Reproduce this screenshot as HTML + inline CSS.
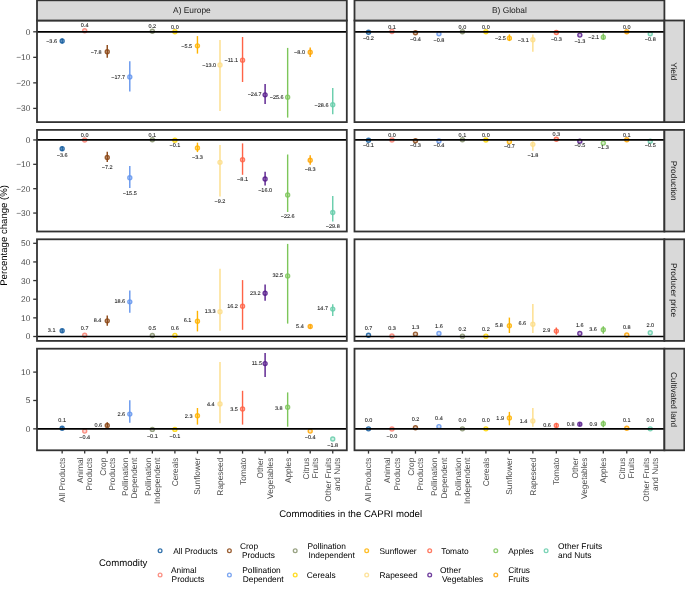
<!DOCTYPE html>
<html><head><meta charset="utf-8"><style>
html,body{margin:0;padding:0;background:#fff;overflow:hidden;}
svg{display:block;will-change:transform;}
text{text-rendering:geometricPrecision;}
text{font-family:"Liberation Sans", sans-serif;}
.lb{font-size:5.5px;fill:#1a1a1a;stroke:#1a1a1a;stroke-width:0.08px;}
.ax{font-size:8.35px;fill:#4d4d4d;}
.st{font-size:8.35px;fill:#1a1a1a;}
.ti{font-size:9.6px;fill:#000;}
.lg{font-size:8.35px;fill:#000;}
</style></head><body>
<svg width="685" height="591" viewBox="0 0 685 591">
<rect width="685" height="591" fill="#fff"/>
<rect x="37" y="20.5" width="309.8" height="101.6" fill="#fff"/>
<rect x="354.5" y="20.5" width="309.9" height="101.6" fill="#fff"/>
<rect x="37" y="129.9" width="309.8" height="101.6" fill="#fff"/>
<rect x="354.5" y="129.9" width="309.9" height="101.6" fill="#fff"/>
<rect x="37" y="239.3" width="309.8" height="101.6" fill="#fff"/>
<rect x="354.5" y="239.3" width="309.9" height="101.6" fill="#fff"/>
<rect x="37" y="348.7" width="309.8" height="101.6" fill="#fff"/>
<rect x="354.5" y="348.7" width="309.9" height="101.6" fill="#fff"/>
<line x1="62.15" y1="38.59" x2="62.15" y2="43.39" stroke="#135c9f" stroke-width="1.4"/>
<circle cx="62.15" cy="40.99" r="2.0" fill="#135c9f" fill-opacity="0.3" stroke="#135c9f" stroke-opacity="0.85" stroke-width="1.4"/>
<circle cx="84.7" cy="30.78" r="2.0" fill="#fa8072" fill-opacity="0.3" stroke="#fa8072" stroke-opacity="0.85" stroke-width="1.4"/>
<line x1="107.25" y1="45.1" x2="107.25" y2="57.7" stroke="#8b4513" stroke-width="1.4"/>
<circle cx="107.25" cy="51.71" r="2.0" fill="#8b4513" fill-opacity="0.3" stroke="#8b4513" stroke-opacity="0.85" stroke-width="1.4"/>
<line x1="129.8" y1="61.2" x2="129.8" y2="91.6" stroke="#6495ed" stroke-width="1.4"/>
<circle cx="129.8" cy="76.99" r="2.0" fill="#6495ed" fill-opacity="0.3" stroke="#6495ed" stroke-opacity="0.85" stroke-width="1.4"/>
<circle cx="152.35" cy="31.29" r="2.0" fill="#87936f" fill-opacity="0.3" stroke="#87936f" stroke-opacity="0.85" stroke-width="1.4"/>
<circle cx="174.9" cy="31.8" r="2.0" fill="#ffd700" fill-opacity="0.3" stroke="#ffd700" stroke-opacity="0.85" stroke-width="1.4"/>
<line x1="197.45" y1="36.1" x2="197.45" y2="53.6" stroke="#ffb300" stroke-width="1.4"/>
<circle cx="197.45" cy="45.84" r="2.0" fill="#ffb300" fill-opacity="0.3" stroke="#ffb300" stroke-opacity="0.85" stroke-width="1.4"/>
<line x1="220" y1="40.1" x2="220" y2="111.1" stroke="#fddd88" stroke-width="1.4"/>
<circle cx="220" cy="64.99" r="2.0" fill="#fddd88" fill-opacity="0.3" stroke="#fddd88" stroke-opacity="0.85" stroke-width="1.4"/>
<line x1="242.55" y1="37" x2="242.55" y2="82" stroke="#ff6347" stroke-width="1.4"/>
<circle cx="242.55" cy="60.14" r="2.0" fill="#ff6347" fill-opacity="0.3" stroke="#ff6347" stroke-opacity="0.85" stroke-width="1.4"/>
<line x1="265.1" y1="83.9" x2="265.1" y2="104" stroke="#551a8b" stroke-width="1.4"/>
<circle cx="265.1" cy="94.86" r="2.0" fill="#551a8b" fill-opacity="0.3" stroke="#551a8b" stroke-opacity="0.85" stroke-width="1.4"/>
<line x1="287.65" y1="47.9" x2="287.65" y2="117.6" stroke="#7dc65a" stroke-width="1.4"/>
<circle cx="287.65" cy="97.16" r="2.0" fill="#7dc65a" fill-opacity="0.3" stroke="#7dc65a" stroke-opacity="0.85" stroke-width="1.4"/>
<line x1="310.2" y1="47.5" x2="310.2" y2="56.9" stroke="#ffa500" stroke-width="1.4"/>
<circle cx="310.2" cy="52.22" r="2.0" fill="#ffa500" fill-opacity="0.3" stroke="#ffa500" stroke-opacity="0.85" stroke-width="1.4"/>
<line x1="332.75" y1="88.1" x2="332.75" y2="114.3" stroke="#66cdaa" stroke-width="1.4"/>
<circle cx="332.75" cy="104.82" r="2.0" fill="#66cdaa" fill-opacity="0.3" stroke="#66cdaa" stroke-opacity="0.85" stroke-width="1.4"/>
<circle cx="368.5" cy="32.31" r="2.0" fill="#135c9f" fill-opacity="0.3" stroke="#135c9f" stroke-opacity="0.85" stroke-width="1.4"/>
<circle cx="391.98" cy="31.54" r="2.0" fill="#fa8072" fill-opacity="0.3" stroke="#fa8072" stroke-opacity="0.85" stroke-width="1.4"/>
<circle cx="415.46" cy="32.82" r="2.0" fill="#8b4513" fill-opacity="0.3" stroke="#8b4513" stroke-opacity="0.85" stroke-width="1.4"/>
<circle cx="438.94" cy="33.84" r="2.0" fill="#6495ed" fill-opacity="0.3" stroke="#6495ed" stroke-opacity="0.85" stroke-width="1.4"/>
<circle cx="462.42" cy="31.8" r="2.0" fill="#87936f" fill-opacity="0.3" stroke="#87936f" stroke-opacity="0.85" stroke-width="1.4"/>
<circle cx="485.9" cy="31.8" r="2.0" fill="#ffd700" fill-opacity="0.3" stroke="#ffd700" stroke-opacity="0.85" stroke-width="1.4"/>
<line x1="509.38" y1="34.4" x2="509.38" y2="41.1" stroke="#ffb300" stroke-width="1.4"/>
<circle cx="509.38" cy="38.18" r="2.0" fill="#ffb300" fill-opacity="0.3" stroke="#ffb300" stroke-opacity="0.85" stroke-width="1.4"/>
<line x1="532.86" y1="34.4" x2="532.86" y2="51.8" stroke="#fddd88" stroke-width="1.4"/>
<circle cx="532.86" cy="39.71" r="2.0" fill="#fddd88" fill-opacity="0.3" stroke="#fddd88" stroke-opacity="0.85" stroke-width="1.4"/>
<circle cx="556.34" cy="32.57" r="2.0" fill="#ff6347" fill-opacity="0.3" stroke="#ff6347" stroke-opacity="0.85" stroke-width="1.4"/>
<circle cx="579.82" cy="35.12" r="2.0" fill="#551a8b" fill-opacity="0.3" stroke="#551a8b" stroke-opacity="0.85" stroke-width="1.4"/>
<line x1="603.3" y1="33.6" x2="603.3" y2="39.9" stroke="#7dc65a" stroke-width="1.4"/>
<circle cx="603.3" cy="37.16" r="2.0" fill="#7dc65a" fill-opacity="0.3" stroke="#7dc65a" stroke-opacity="0.85" stroke-width="1.4"/>
<circle cx="626.78" cy="31.8" r="2.0" fill="#ffa500" fill-opacity="0.3" stroke="#ffa500" stroke-opacity="0.85" stroke-width="1.4"/>
<circle cx="650.26" cy="33.84" r="2.0" fill="#66cdaa" fill-opacity="0.3" stroke="#66cdaa" stroke-opacity="0.85" stroke-width="1.4"/>
<line x1="62.15" y1="146.42" x2="62.15" y2="151.02" stroke="#135c9f" stroke-width="1.4"/>
<circle cx="62.15" cy="148.72" r="2.0" fill="#135c9f" fill-opacity="0.3" stroke="#135c9f" stroke-opacity="0.85" stroke-width="1.4"/>
<circle cx="84.7" cy="139.95" r="2.0" fill="#fa8072" fill-opacity="0.3" stroke="#fa8072" stroke-opacity="0.85" stroke-width="1.4"/>
<line x1="107.25" y1="151.8" x2="107.25" y2="161.9" stroke="#8b4513" stroke-width="1.4"/>
<circle cx="107.25" cy="157.5" r="2.0" fill="#8b4513" fill-opacity="0.3" stroke="#8b4513" stroke-opacity="0.85" stroke-width="1.4"/>
<line x1="129.8" y1="166" x2="129.8" y2="188" stroke="#6495ed" stroke-width="1.4"/>
<circle cx="129.8" cy="177.72" r="2.0" fill="#6495ed" fill-opacity="0.3" stroke="#6495ed" stroke-opacity="0.85" stroke-width="1.4"/>
<circle cx="152.35" cy="139.71" r="2.0" fill="#87936f" fill-opacity="0.3" stroke="#87936f" stroke-opacity="0.85" stroke-width="1.4"/>
<circle cx="174.9" cy="140.19" r="2.0" fill="#ffd700" fill-opacity="0.3" stroke="#ffd700" stroke-opacity="0.85" stroke-width="1.4"/>
<line x1="197.45" y1="142.7" x2="197.45" y2="152.1" stroke="#ffb300" stroke-width="1.4"/>
<circle cx="197.45" cy="147.99" r="2.0" fill="#ffb300" fill-opacity="0.3" stroke="#ffb300" stroke-opacity="0.85" stroke-width="1.4"/>
<line x1="220" y1="145" x2="220" y2="196.6" stroke="#fddd88" stroke-width="1.4"/>
<circle cx="220" cy="162.37" r="2.0" fill="#fddd88" fill-opacity="0.3" stroke="#fddd88" stroke-opacity="0.85" stroke-width="1.4"/>
<line x1="242.55" y1="143.4" x2="242.55" y2="174.8" stroke="#ff6347" stroke-width="1.4"/>
<circle cx="242.55" cy="159.69" r="2.0" fill="#ff6347" fill-opacity="0.3" stroke="#ff6347" stroke-opacity="0.85" stroke-width="1.4"/>
<line x1="265.1" y1="171.8" x2="265.1" y2="185.5" stroke="#551a8b" stroke-width="1.4"/>
<circle cx="265.1" cy="178.94" r="2.0" fill="#551a8b" fill-opacity="0.3" stroke="#551a8b" stroke-opacity="0.85" stroke-width="1.4"/>
<line x1="287.65" y1="154.5" x2="287.65" y2="212" stroke="#7dc65a" stroke-width="1.4"/>
<circle cx="287.65" cy="195.03" r="2.0" fill="#7dc65a" fill-opacity="0.3" stroke="#7dc65a" stroke-opacity="0.85" stroke-width="1.4"/>
<line x1="310.2" y1="155.2" x2="310.2" y2="164.7" stroke="#ffa500" stroke-width="1.4"/>
<circle cx="310.2" cy="160.18" r="2.0" fill="#ffa500" fill-opacity="0.3" stroke="#ffa500" stroke-opacity="0.85" stroke-width="1.4"/>
<line x1="332.75" y1="196.1" x2="332.75" y2="221.4" stroke="#66cdaa" stroke-width="1.4"/>
<circle cx="332.75" cy="212.57" r="2.0" fill="#66cdaa" fill-opacity="0.3" stroke="#66cdaa" stroke-opacity="0.85" stroke-width="1.4"/>
<circle cx="368.5" cy="140.19" r="2.0" fill="#135c9f" fill-opacity="0.3" stroke="#135c9f" stroke-opacity="0.85" stroke-width="1.4"/>
<circle cx="391.98" cy="139.95" r="2.0" fill="#fa8072" fill-opacity="0.3" stroke="#fa8072" stroke-opacity="0.85" stroke-width="1.4"/>
<circle cx="415.46" cy="140.68" r="2.0" fill="#8b4513" fill-opacity="0.3" stroke="#8b4513" stroke-opacity="0.85" stroke-width="1.4"/>
<circle cx="438.94" cy="140.92" r="2.0" fill="#6495ed" fill-opacity="0.3" stroke="#6495ed" stroke-opacity="0.85" stroke-width="1.4"/>
<circle cx="462.42" cy="139.71" r="2.0" fill="#87936f" fill-opacity="0.3" stroke="#87936f" stroke-opacity="0.85" stroke-width="1.4"/>
<circle cx="485.9" cy="139.95" r="2.0" fill="#ffd700" fill-opacity="0.3" stroke="#ffd700" stroke-opacity="0.85" stroke-width="1.4"/>
<circle cx="509.38" cy="141.66" r="2.0" fill="#ffb300" fill-opacity="0.3" stroke="#ffb300" stroke-opacity="0.85" stroke-width="1.4"/>
<line x1="532.86" y1="141.6" x2="532.86" y2="150.8" stroke="#fddd88" stroke-width="1.4"/>
<circle cx="532.86" cy="144.34" r="2.0" fill="#fddd88" fill-opacity="0.3" stroke="#fddd88" stroke-opacity="0.85" stroke-width="1.4"/>
<circle cx="556.34" cy="139.22" r="2.0" fill="#ff6347" fill-opacity="0.3" stroke="#ff6347" stroke-opacity="0.85" stroke-width="1.4"/>
<circle cx="579.82" cy="141.17" r="2.0" fill="#551a8b" fill-opacity="0.3" stroke="#551a8b" stroke-opacity="0.85" stroke-width="1.4"/>
<circle cx="603.3" cy="143.12" r="2.0" fill="#7dc65a" fill-opacity="0.3" stroke="#7dc65a" stroke-opacity="0.85" stroke-width="1.4"/>
<circle cx="626.78" cy="139.71" r="2.0" fill="#ffa500" fill-opacity="0.3" stroke="#ffa500" stroke-opacity="0.85" stroke-width="1.4"/>
<circle cx="650.26" cy="141.17" r="2.0" fill="#66cdaa" fill-opacity="0.3" stroke="#66cdaa" stroke-opacity="0.85" stroke-width="1.4"/>
<line x1="62.15" y1="328.72" x2="62.15" y2="332.72" stroke="#135c9f" stroke-width="1.4"/>
<circle cx="62.15" cy="330.72" r="2.0" fill="#135c9f" fill-opacity="0.3" stroke="#135c9f" stroke-opacity="0.85" stroke-width="1.4"/>
<circle cx="84.7" cy="335.2" r="2.0" fill="#fa8072" fill-opacity="0.3" stroke="#fa8072" stroke-opacity="0.85" stroke-width="1.4"/>
<line x1="107.25" y1="315.6" x2="107.25" y2="325.8" stroke="#8b4513" stroke-width="1.4"/>
<circle cx="107.25" cy="320.84" r="2.0" fill="#8b4513" fill-opacity="0.3" stroke="#8b4513" stroke-opacity="0.85" stroke-width="1.4"/>
<line x1="129.8" y1="290.5" x2="129.8" y2="312.7" stroke="#6495ed" stroke-width="1.4"/>
<circle cx="129.8" cy="301.83" r="2.0" fill="#6495ed" fill-opacity="0.3" stroke="#6495ed" stroke-opacity="0.85" stroke-width="1.4"/>
<circle cx="152.35" cy="335.57" r="2.0" fill="#87936f" fill-opacity="0.3" stroke="#87936f" stroke-opacity="0.85" stroke-width="1.4"/>
<circle cx="174.9" cy="335.38" r="2.0" fill="#ffd700" fill-opacity="0.3" stroke="#ffd700" stroke-opacity="0.85" stroke-width="1.4"/>
<line x1="197.45" y1="310.8" x2="197.45" y2="331.4" stroke="#ffb300" stroke-width="1.4"/>
<circle cx="197.45" cy="321.2" r="2.0" fill="#ffb300" fill-opacity="0.3" stroke="#ffb300" stroke-opacity="0.85" stroke-width="1.4"/>
<line x1="220" y1="268.7" x2="220" y2="330.7" stroke="#fddd88" stroke-width="1.4"/>
<circle cx="220" cy="311.71" r="2.0" fill="#fddd88" fill-opacity="0.3" stroke="#fddd88" stroke-opacity="0.85" stroke-width="1.4"/>
<line x1="242.55" y1="280.1" x2="242.55" y2="329.8" stroke="#ff6347" stroke-width="1.4"/>
<circle cx="242.55" cy="306.3" r="2.0" fill="#ff6347" fill-opacity="0.3" stroke="#ff6347" stroke-opacity="0.85" stroke-width="1.4"/>
<line x1="265.1" y1="284.6" x2="265.1" y2="300.7" stroke="#551a8b" stroke-width="1.4"/>
<circle cx="265.1" cy="293.26" r="2.0" fill="#551a8b" fill-opacity="0.3" stroke="#551a8b" stroke-opacity="0.85" stroke-width="1.4"/>
<line x1="287.65" y1="243.9" x2="287.65" y2="323.6" stroke="#7dc65a" stroke-width="1.4"/>
<circle cx="287.65" cy="275.92" r="2.0" fill="#7dc65a" fill-opacity="0.3" stroke="#7dc65a" stroke-opacity="0.85" stroke-width="1.4"/>
<line x1="310.2" y1="324.43" x2="310.2" y2="328.43" stroke="#ffa500" stroke-width="1.4"/>
<circle cx="310.2" cy="326.43" r="2.0" fill="#ffa500" fill-opacity="0.3" stroke="#ffa500" stroke-opacity="0.85" stroke-width="1.4"/>
<line x1="332.75" y1="304.2" x2="332.75" y2="316" stroke="#66cdaa" stroke-width="1.4"/>
<circle cx="332.75" cy="309.1" r="2.0" fill="#66cdaa" fill-opacity="0.3" stroke="#66cdaa" stroke-opacity="0.85" stroke-width="1.4"/>
<circle cx="368.5" cy="335.2" r="2.0" fill="#135c9f" fill-opacity="0.3" stroke="#135c9f" stroke-opacity="0.85" stroke-width="1.4"/>
<circle cx="391.98" cy="335.94" r="2.0" fill="#fa8072" fill-opacity="0.3" stroke="#fa8072" stroke-opacity="0.85" stroke-width="1.4"/>
<circle cx="415.46" cy="334.08" r="2.0" fill="#8b4513" fill-opacity="0.3" stroke="#8b4513" stroke-opacity="0.85" stroke-width="1.4"/>
<circle cx="438.94" cy="333.52" r="2.0" fill="#6495ed" fill-opacity="0.3" stroke="#6495ed" stroke-opacity="0.85" stroke-width="1.4"/>
<circle cx="462.42" cy="336.13" r="2.0" fill="#87936f" fill-opacity="0.3" stroke="#87936f" stroke-opacity="0.85" stroke-width="1.4"/>
<circle cx="485.9" cy="336.13" r="2.0" fill="#ffd700" fill-opacity="0.3" stroke="#ffd700" stroke-opacity="0.85" stroke-width="1.4"/>
<line x1="509.38" y1="317.6" x2="509.38" y2="333" stroke="#ffb300" stroke-width="1.4"/>
<circle cx="509.38" cy="325.69" r="2.0" fill="#ffb300" fill-opacity="0.3" stroke="#ffb300" stroke-opacity="0.85" stroke-width="1.4"/>
<line x1="532.86" y1="303.9" x2="532.86" y2="333" stroke="#fddd88" stroke-width="1.4"/>
<circle cx="532.86" cy="324.2" r="2.0" fill="#fddd88" fill-opacity="0.3" stroke="#fddd88" stroke-opacity="0.85" stroke-width="1.4"/>
<line x1="556.34" y1="327.5" x2="556.34" y2="334.7" stroke="#ff6347" stroke-width="1.4"/>
<circle cx="556.34" cy="331.09" r="2.0" fill="#ff6347" fill-opacity="0.3" stroke="#ff6347" stroke-opacity="0.85" stroke-width="1.4"/>
<circle cx="579.82" cy="333.52" r="2.0" fill="#551a8b" fill-opacity="0.3" stroke="#551a8b" stroke-opacity="0.85" stroke-width="1.4"/>
<line x1="603.3" y1="326.2" x2="603.3" y2="333.7" stroke="#7dc65a" stroke-width="1.4"/>
<circle cx="603.3" cy="329.79" r="2.0" fill="#7dc65a" fill-opacity="0.3" stroke="#7dc65a" stroke-opacity="0.85" stroke-width="1.4"/>
<circle cx="626.78" cy="335.01" r="2.0" fill="#ffa500" fill-opacity="0.3" stroke="#ffa500" stroke-opacity="0.85" stroke-width="1.4"/>
<circle cx="650.26" cy="332.77" r="2.0" fill="#66cdaa" fill-opacity="0.3" stroke="#66cdaa" stroke-opacity="0.85" stroke-width="1.4"/>
<line x1="62.15" y1="426.78" x2="62.15" y2="429.78" stroke="#135c9f" stroke-width="1.4"/>
<circle cx="62.15" cy="428.28" r="2.0" fill="#135c9f" fill-opacity="0.3" stroke="#135c9f" stroke-opacity="0.85" stroke-width="1.4"/>
<circle cx="84.7" cy="431.12" r="2.0" fill="#fa8072" fill-opacity="0.3" stroke="#fa8072" stroke-opacity="0.85" stroke-width="1.4"/>
<line x1="107.25" y1="422.3" x2="107.25" y2="427.3" stroke="#8b4513" stroke-width="1.4"/>
<circle cx="107.25" cy="425.45" r="2.0" fill="#8b4513" fill-opacity="0.3" stroke="#8b4513" stroke-opacity="0.85" stroke-width="1.4"/>
<line x1="129.8" y1="400.2" x2="129.8" y2="422.8" stroke="#6495ed" stroke-width="1.4"/>
<circle cx="129.8" cy="414.1" r="2.0" fill="#6495ed" fill-opacity="0.3" stroke="#6495ed" stroke-opacity="0.85" stroke-width="1.4"/>
<circle cx="152.35" cy="429.42" r="2.0" fill="#87936f" fill-opacity="0.3" stroke="#87936f" stroke-opacity="0.85" stroke-width="1.4"/>
<circle cx="174.9" cy="429.42" r="2.0" fill="#ffd700" fill-opacity="0.3" stroke="#ffd700" stroke-opacity="0.85" stroke-width="1.4"/>
<line x1="197.45" y1="408" x2="197.45" y2="424.6" stroke="#ffb300" stroke-width="1.4"/>
<circle cx="197.45" cy="415.8" r="2.0" fill="#ffb300" fill-opacity="0.3" stroke="#ffb300" stroke-opacity="0.85" stroke-width="1.4"/>
<line x1="220" y1="361.9" x2="220" y2="423.2" stroke="#fddd88" stroke-width="1.4"/>
<circle cx="220" cy="403.88" r="2.0" fill="#fddd88" fill-opacity="0.3" stroke="#fddd88" stroke-opacity="0.85" stroke-width="1.4"/>
<line x1="242.55" y1="390.8" x2="242.55" y2="424.6" stroke="#ff6347" stroke-width="1.4"/>
<circle cx="242.55" cy="408.99" r="2.0" fill="#ff6347" fill-opacity="0.3" stroke="#ff6347" stroke-opacity="0.85" stroke-width="1.4"/>
<line x1="265.1" y1="352.9" x2="265.1" y2="377" stroke="#551a8b" stroke-width="1.4"/>
<circle cx="265.1" cy="363.59" r="2.0" fill="#551a8b" fill-opacity="0.3" stroke="#551a8b" stroke-opacity="0.85" stroke-width="1.4"/>
<line x1="287.65" y1="392.4" x2="287.65" y2="426.7" stroke="#7dc65a" stroke-width="1.4"/>
<circle cx="287.65" cy="407.29" r="2.0" fill="#7dc65a" fill-opacity="0.3" stroke="#7dc65a" stroke-opacity="0.85" stroke-width="1.4"/>
<circle cx="310.2" cy="431.12" r="2.0" fill="#ffa500" fill-opacity="0.3" stroke="#ffa500" stroke-opacity="0.85" stroke-width="1.4"/>
<circle cx="332.75" cy="439.06" r="2.0" fill="#66cdaa" fill-opacity="0.3" stroke="#66cdaa" stroke-opacity="0.85" stroke-width="1.4"/>
<circle cx="368.5" cy="428.85" r="2.0" fill="#135c9f" fill-opacity="0.3" stroke="#135c9f" stroke-opacity="0.85" stroke-width="1.4"/>
<circle cx="391.98" cy="428.96" r="2.0" fill="#fa8072" fill-opacity="0.3" stroke="#fa8072" stroke-opacity="0.85" stroke-width="1.4"/>
<circle cx="415.46" cy="427.72" r="2.0" fill="#8b4513" fill-opacity="0.3" stroke="#8b4513" stroke-opacity="0.85" stroke-width="1.4"/>
<circle cx="438.94" cy="426.58" r="2.0" fill="#6495ed" fill-opacity="0.3" stroke="#6495ed" stroke-opacity="0.85" stroke-width="1.4"/>
<circle cx="462.42" cy="428.85" r="2.0" fill="#87936f" fill-opacity="0.3" stroke="#87936f" stroke-opacity="0.85" stroke-width="1.4"/>
<circle cx="485.9" cy="428.85" r="2.0" fill="#ffd700" fill-opacity="0.3" stroke="#ffd700" stroke-opacity="0.85" stroke-width="1.4"/>
<line x1="509.38" y1="411.9" x2="509.38" y2="425.3" stroke="#ffb300" stroke-width="1.4"/>
<circle cx="509.38" cy="418.07" r="2.0" fill="#ffb300" fill-opacity="0.3" stroke="#ffb300" stroke-opacity="0.85" stroke-width="1.4"/>
<line x1="532.86" y1="407.9" x2="532.86" y2="426.8" stroke="#fddd88" stroke-width="1.4"/>
<circle cx="532.86" cy="420.91" r="2.0" fill="#fddd88" fill-opacity="0.3" stroke="#fddd88" stroke-opacity="0.85" stroke-width="1.4"/>
<line x1="556.34" y1="422.85" x2="556.34" y2="428.05" stroke="#ff6347" stroke-width="1.4"/>
<circle cx="556.34" cy="425.45" r="2.0" fill="#ff6347" fill-opacity="0.3" stroke="#ff6347" stroke-opacity="0.85" stroke-width="1.4"/>
<line x1="579.82" y1="422.71" x2="579.82" y2="425.91" stroke="#551a8b" stroke-width="1.4"/>
<circle cx="579.82" cy="424.31" r="2.0" fill="#551a8b" fill-opacity="0.3" stroke="#551a8b" stroke-opacity="0.85" stroke-width="1.4"/>
<line x1="603.3" y1="420.6" x2="603.3" y2="427.3" stroke="#7dc65a" stroke-width="1.4"/>
<circle cx="603.3" cy="423.74" r="2.0" fill="#7dc65a" fill-opacity="0.3" stroke="#7dc65a" stroke-opacity="0.85" stroke-width="1.4"/>
<circle cx="626.78" cy="428.28" r="2.0" fill="#ffa500" fill-opacity="0.3" stroke="#ffa500" stroke-opacity="0.85" stroke-width="1.4"/>
<circle cx="650.26" cy="428.85" r="2.0" fill="#66cdaa" fill-opacity="0.3" stroke="#66cdaa" stroke-opacity="0.85" stroke-width="1.4"/>
<line x1="37" y1="31.8" x2="346.8" y2="31.8" stroke="#000" stroke-width="1.7"/>
<line x1="354.5" y1="31.8" x2="664.4" y2="31.8" stroke="#000" stroke-width="1.7"/>
<line x1="37" y1="139.95" x2="346.8" y2="139.95" stroke="#000" stroke-width="1.7"/>
<line x1="354.5" y1="139.95" x2="664.4" y2="139.95" stroke="#000" stroke-width="1.7"/>
<line x1="37" y1="336.5" x2="346.8" y2="336.5" stroke="#000" stroke-width="1.7"/>
<line x1="354.5" y1="336.5" x2="664.4" y2="336.5" stroke="#000" stroke-width="1.7"/>
<line x1="37" y1="428.85" x2="346.8" y2="428.85" stroke="#000" stroke-width="1.7"/>
<line x1="354.5" y1="428.85" x2="664.4" y2="428.85" stroke="#000" stroke-width="1.7"/>
<text x="57" y="43.17" text-anchor="end" class="lb">−3.6</text>
<text x="84.7" y="27.17" text-anchor="middle" class="lb">0.4</text>
<text x="101.6" y="53.87" text-anchor="end" class="lb">−7.8</text>
<text x="125.15" y="78.67" text-anchor="end" class="lb">−17.7</text>
<text x="152.35" y="27.97" text-anchor="middle" class="lb">0.2</text>
<text x="174.9" y="28.57" text-anchor="middle" class="lb">0.0</text>
<text x="192.1" y="47.97" text-anchor="end" class="lb">−5.5</text>
<text x="216.15" y="67.37" text-anchor="end" class="lb">−13.0</text>
<text x="238" y="62.27" text-anchor="end" class="lb">−11.1</text>
<text x="261.55" y="96.07" text-anchor="end" class="lb">−24.7</text>
<text x="283.7" y="99.17" text-anchor="end" class="lb">−25.6</text>
<text x="304.95" y="54.47" text-anchor="end" class="lb">−8.0</text>
<text x="328.5" y="106.77" text-anchor="end" class="lb">−28.6</text>
<text x="368.5" y="40.37" text-anchor="middle" class="lb">−0.2</text>
<text x="391.98" y="28.77" text-anchor="middle" class="lb">0.1</text>
<text x="415.46" y="41.07" text-anchor="middle" class="lb">−0.4</text>
<text x="438.94" y="42.47" text-anchor="middle" class="lb">−0.8</text>
<text x="462.42" y="28.77" text-anchor="middle" class="lb">0.0</text>
<text x="485.9" y="28.77" text-anchor="middle" class="lb">0.0</text>
<text x="505.83" y="40.07" text-anchor="end" class="lb">−2.5</text>
<text x="528.71" y="41.87" text-anchor="end" class="lb">−3.1</text>
<text x="556.34" y="40.87" text-anchor="middle" class="lb">−0.3</text>
<text x="579.82" y="43.27" text-anchor="middle" class="lb">−1.3</text>
<text x="599.15" y="39.27" text-anchor="end" class="lb">−2.1</text>
<text x="626.78" y="28.67" text-anchor="middle" class="lb">0.0</text>
<text x="650.26" y="41.37" text-anchor="middle" class="lb">−0.8</text>
<text x="62.15" y="157.47" text-anchor="middle" class="lb">−3.6</text>
<text x="84.7" y="137.17" text-anchor="middle" class="lb">0.0</text>
<text x="107.25" y="168.57" text-anchor="middle" class="lb">−7.2</text>
<text x="129.8" y="194.67" text-anchor="middle" class="lb">−15.5</text>
<text x="152.35" y="137.17" text-anchor="middle" class="lb">0.1</text>
<text x="174.9" y="146.67" text-anchor="middle" class="lb">−0.1</text>
<text x="197.45" y="159.27" text-anchor="middle" class="lb">−3.3</text>
<text x="220" y="203.07" text-anchor="middle" class="lb">−9.2</text>
<text x="242.55" y="181.27" text-anchor="middle" class="lb">−8.1</text>
<text x="265.1" y="192.17" text-anchor="middle" class="lb">−16.0</text>
<text x="287.65" y="217.97" text-anchor="middle" class="lb">−22.6</text>
<text x="310.2" y="171.07" text-anchor="middle" class="lb">−8.3</text>
<text x="332.75" y="228.37" text-anchor="middle" class="lb">−29.8</text>
<text x="368.5" y="146.57" text-anchor="middle" class="lb">−0.1</text>
<text x="391.98" y="137.27" text-anchor="middle" class="lb">0.0</text>
<text x="415.46" y="146.97" text-anchor="middle" class="lb">−0.3</text>
<text x="438.94" y="147.47" text-anchor="middle" class="lb">−0.4</text>
<text x="462.42" y="137.27" text-anchor="middle" class="lb">0.1</text>
<text x="485.9" y="137.27" text-anchor="middle" class="lb">0.0</text>
<text x="509.38" y="148.07" text-anchor="middle" class="lb">−0.7</text>
<text x="532.86" y="156.77" text-anchor="middle" class="lb">−1.8</text>
<text x="556.34" y="135.67" text-anchor="middle" class="lb">0.3</text>
<text x="579.82" y="147.37" text-anchor="middle" class="lb">−0.5</text>
<text x="603.3" y="149.37" text-anchor="middle" class="lb">−1.3</text>
<text x="626.78" y="136.67" text-anchor="middle" class="lb">0.1</text>
<text x="650.26" y="147.37" text-anchor="middle" class="lb">−0.5</text>
<text x="55.5" y="332.07" text-anchor="end" class="lb">3.1</text>
<text x="84.7" y="329.77" text-anchor="middle" class="lb">0.7</text>
<text x="101.3" y="321.67" text-anchor="end" class="lb">8.4</text>
<text x="125.15" y="303.17" text-anchor="end" class="lb">18.6</text>
<text x="152.35" y="329.97" text-anchor="middle" class="lb">0.5</text>
<text x="174.9" y="329.97" text-anchor="middle" class="lb">0.6</text>
<text x="191.4" y="322.47" text-anchor="end" class="lb">6.1</text>
<text x="215.55" y="312.97" text-anchor="end" class="lb">13.3</text>
<text x="237.9" y="307.67" text-anchor="end" class="lb">16.2</text>
<text x="260.65" y="294.57" text-anchor="end" class="lb">23.2</text>
<text x="283.1" y="277.07" text-anchor="end" class="lb">32.5</text>
<text x="303.75" y="327.87" text-anchor="end" class="lb">5.4</text>
<text x="328" y="310.27" text-anchor="end" class="lb">14.7</text>
<text x="368.5" y="329.77" text-anchor="middle" class="lb">0.7</text>
<text x="391.98" y="330.37" text-anchor="middle" class="lb">0.3</text>
<text x="415.46" y="328.87" text-anchor="middle" class="lb">1.3</text>
<text x="438.94" y="328.17" text-anchor="middle" class="lb">1.6</text>
<text x="462.42" y="330.87" text-anchor="middle" class="lb">0.2</text>
<text x="485.9" y="330.87" text-anchor="middle" class="lb">0.2</text>
<text x="502.93" y="326.87" text-anchor="end" class="lb">5.8</text>
<text x="526.11" y="325.07" text-anchor="end" class="lb">6.6</text>
<text x="550.29" y="332.07" text-anchor="end" class="lb">2.9</text>
<text x="579.82" y="327.47" text-anchor="middle" class="lb">1.6</text>
<text x="596.95" y="330.87" text-anchor="end" class="lb">3.6</text>
<text x="626.78" y="329.47" text-anchor="middle" class="lb">0.8</text>
<text x="650.26" y="327.27" text-anchor="middle" class="lb">2.0</text>
<text x="62.15" y="422.07" text-anchor="middle" class="lb">0.1</text>
<text x="84.7" y="439.47" text-anchor="middle" class="lb">−0.4</text>
<text x="102.2" y="427.37" text-anchor="end" class="lb">0.6</text>
<text x="125.15" y="416.27" text-anchor="end" class="lb">2.6</text>
<text x="152.35" y="438.07" text-anchor="middle" class="lb">−0.1</text>
<text x="174.9" y="438.07" text-anchor="middle" class="lb">−0.1</text>
<text x="192.5" y="417.77" text-anchor="end" class="lb">2.3</text>
<text x="214.65" y="406.07" text-anchor="end" class="lb">4.4</text>
<text x="237.8" y="411.07" text-anchor="end" class="lb">3.5</text>
<text x="261.95" y="365.37" text-anchor="end" class="lb">11.5</text>
<text x="282.6" y="409.87" text-anchor="end" class="lb">3.8</text>
<text x="310.2" y="439.27" text-anchor="middle" class="lb">−0.4</text>
<text x="332.75" y="447.37" text-anchor="middle" class="lb">−1.8</text>
<text x="368.5" y="422.07" text-anchor="middle" class="lb">0.0</text>
<text x="391.98" y="437.97" text-anchor="middle" class="lb">−0.0</text>
<text x="415.46" y="421.37" text-anchor="middle" class="lb">0.2</text>
<text x="438.94" y="419.97" text-anchor="middle" class="lb">0.4</text>
<text x="462.42" y="422.07" text-anchor="middle" class="lb">0.0</text>
<text x="485.9" y="422.07" text-anchor="middle" class="lb">0.0</text>
<text x="504.03" y="420.37" text-anchor="end" class="lb">1.9</text>
<text x="527.31" y="422.97" text-anchor="end" class="lb">1.4</text>
<text x="550.79" y="427.37" text-anchor="end" class="lb">0.6</text>
<text x="574.47" y="426.47" text-anchor="end" class="lb">0.8</text>
<text x="597.25" y="425.67" text-anchor="end" class="lb">0.9</text>
<text x="626.78" y="421.77" text-anchor="middle" class="lb">0.1</text>
<text x="650.26" y="421.77" text-anchor="middle" class="lb">0.0</text>
<rect x="37" y="20.5" width="309.8" height="101.6" fill="none" stroke="#333333" stroke-width="1.8"/>
<rect x="354.5" y="20.5" width="309.9" height="101.6" fill="none" stroke="#333333" stroke-width="1.8"/>
<rect x="37" y="129.9" width="309.8" height="101.6" fill="none" stroke="#333333" stroke-width="1.8"/>
<rect x="354.5" y="129.9" width="309.9" height="101.6" fill="none" stroke="#333333" stroke-width="1.8"/>
<rect x="37" y="239.3" width="309.8" height="101.6" fill="none" stroke="#333333" stroke-width="1.8"/>
<rect x="354.5" y="239.3" width="309.9" height="101.6" fill="none" stroke="#333333" stroke-width="1.8"/>
<rect x="37" y="348.7" width="309.8" height="101.6" fill="none" stroke="#333333" stroke-width="1.8"/>
<rect x="354.5" y="348.7" width="309.9" height="101.6" fill="none" stroke="#333333" stroke-width="1.8"/>
<rect x="37" y="0.3" width="309.8" height="20.2" fill="#d9d9d9" stroke="#333333" stroke-width="1.8"/>
<text x="191.9" y="13.1" text-anchor="middle" class="st">A) Europe</text>
<rect x="354.5" y="0.3" width="309.9" height="20.2" fill="#d9d9d9" stroke="#333333" stroke-width="1.8"/>
<text x="509.45" y="13.1" text-anchor="middle" class="st">B) Global</text>
<rect x="664.4" y="20.5" width="19.9" height="101.6" fill="#d9d9d9" stroke="#333333" stroke-width="1.8"/>
<text transform="translate(671.36,71.3) rotate(90)" text-anchor="middle" class="st">Yield</text>
<rect x="664.4" y="129.9" width="19.9" height="101.6" fill="#d9d9d9" stroke="#333333" stroke-width="1.8"/>
<text transform="translate(671.36,180.7) rotate(90)" text-anchor="middle" class="st">Production</text>
<rect x="664.4" y="239.3" width="19.9" height="101.6" fill="#d9d9d9" stroke="#333333" stroke-width="1.8"/>
<text transform="translate(671.36,290.1) rotate(90)" text-anchor="middle" class="st">Producer price</text>
<rect x="664.4" y="348.7" width="19.9" height="101.6" fill="#d9d9d9" stroke="#333333" stroke-width="1.8"/>
<text transform="translate(671.36,399.5) rotate(90)" text-anchor="middle" class="st">Cultivated land</text>
<line x1="33.2" y1="31.8" x2="37" y2="31.8" stroke="#333333" stroke-width="1.3"/>
<text x="30.4" y="34.79" text-anchor="end" class="ax">0</text>
<line x1="33.2" y1="57.33" x2="37" y2="57.33" stroke="#333333" stroke-width="1.3"/>
<text x="30.4" y="60.32" text-anchor="end" class="ax">−10</text>
<line x1="33.2" y1="82.86" x2="37" y2="82.86" stroke="#333333" stroke-width="1.3"/>
<text x="30.4" y="85.85" text-anchor="end" class="ax">−20</text>
<line x1="33.2" y1="108.39" x2="37" y2="108.39" stroke="#333333" stroke-width="1.3"/>
<text x="30.4" y="111.38" text-anchor="end" class="ax">−30</text>
<line x1="33.2" y1="139.95" x2="37" y2="139.95" stroke="#333333" stroke-width="1.3"/>
<text x="30.4" y="142.94" text-anchor="end" class="ax">0</text>
<line x1="33.2" y1="164.32" x2="37" y2="164.32" stroke="#333333" stroke-width="1.3"/>
<text x="30.4" y="167.31" text-anchor="end" class="ax">−10</text>
<line x1="33.2" y1="188.69" x2="37" y2="188.69" stroke="#333333" stroke-width="1.3"/>
<text x="30.4" y="191.68" text-anchor="end" class="ax">−20</text>
<line x1="33.2" y1="213.06" x2="37" y2="213.06" stroke="#333333" stroke-width="1.3"/>
<text x="30.4" y="216.05" text-anchor="end" class="ax">−30</text>
<line x1="33.2" y1="336.5" x2="37" y2="336.5" stroke="#333333" stroke-width="1.3"/>
<text x="30.4" y="339.49" text-anchor="end" class="ax">0</text>
<line x1="33.2" y1="317.86" x2="37" y2="317.86" stroke="#333333" stroke-width="1.3"/>
<text x="30.4" y="320.85" text-anchor="end" class="ax">10</text>
<line x1="33.2" y1="299.22" x2="37" y2="299.22" stroke="#333333" stroke-width="1.3"/>
<text x="30.4" y="302.21" text-anchor="end" class="ax">20</text>
<line x1="33.2" y1="280.58" x2="37" y2="280.58" stroke="#333333" stroke-width="1.3"/>
<text x="30.4" y="283.57" text-anchor="end" class="ax">30</text>
<line x1="33.2" y1="261.94" x2="37" y2="261.94" stroke="#333333" stroke-width="1.3"/>
<text x="30.4" y="264.93" text-anchor="end" class="ax">40</text>
<line x1="33.2" y1="243.3" x2="37" y2="243.3" stroke="#333333" stroke-width="1.3"/>
<text x="30.4" y="246.29" text-anchor="end" class="ax">50</text>
<line x1="33.2" y1="428.85" x2="37" y2="428.85" stroke="#333333" stroke-width="1.3"/>
<text x="30.4" y="431.84" text-anchor="end" class="ax">0</text>
<line x1="33.2" y1="400.48" x2="37" y2="400.48" stroke="#333333" stroke-width="1.3"/>
<text x="30.4" y="403.46" text-anchor="end" class="ax">5</text>
<line x1="33.2" y1="372.1" x2="37" y2="372.1" stroke="#333333" stroke-width="1.3"/>
<text x="30.4" y="375.09" text-anchor="end" class="ax">10</text>
<line x1="62.15" y1="450.3" x2="62.15" y2="453.6" stroke="#333333" stroke-width="1.3"/>
<text transform="translate(65.14,457.6) rotate(-90)" text-anchor="end" class="ax">All Products</text>
<line x1="84.7" y1="450.3" x2="84.7" y2="453.6" stroke="#333333" stroke-width="1.3"/>
<text transform="translate(83.04,457.6) rotate(-90)" text-anchor="end" class="ax">Animal</text>
<text transform="translate(92.34,457.6) rotate(-90)" text-anchor="end" class="ax">Products</text>
<line x1="107.25" y1="450.3" x2="107.25" y2="453.6" stroke="#333333" stroke-width="1.3"/>
<text transform="translate(105.59,457.6) rotate(-90)" text-anchor="end" class="ax">Crop</text>
<text transform="translate(114.89,457.6) rotate(-90)" text-anchor="end" class="ax">Products</text>
<line x1="129.8" y1="450.3" x2="129.8" y2="453.6" stroke="#333333" stroke-width="1.3"/>
<text transform="translate(128.14,457.6) rotate(-90)" text-anchor="end" class="ax">Pollination</text>
<text transform="translate(137.44,457.6) rotate(-90)" text-anchor="end" class="ax">Dependent</text>
<line x1="152.35" y1="450.3" x2="152.35" y2="453.6" stroke="#333333" stroke-width="1.3"/>
<text transform="translate(150.69,457.6) rotate(-90)" text-anchor="end" class="ax">Pollination</text>
<text transform="translate(159.99,457.6) rotate(-90)" text-anchor="end" class="ax">Independent</text>
<line x1="174.9" y1="450.3" x2="174.9" y2="453.6" stroke="#333333" stroke-width="1.3"/>
<text transform="translate(177.89,457.6) rotate(-90)" text-anchor="end" class="ax">Cereals</text>
<line x1="197.45" y1="450.3" x2="197.45" y2="453.6" stroke="#333333" stroke-width="1.3"/>
<text transform="translate(200.44,457.6) rotate(-90)" text-anchor="end" class="ax">Sunflower</text>
<line x1="220" y1="450.3" x2="220" y2="453.6" stroke="#333333" stroke-width="1.3"/>
<text transform="translate(222.99,457.6) rotate(-90)" text-anchor="end" class="ax">Rapeseed</text>
<line x1="242.55" y1="450.3" x2="242.55" y2="453.6" stroke="#333333" stroke-width="1.3"/>
<text transform="translate(245.54,457.6) rotate(-90)" text-anchor="end" class="ax">Tomato</text>
<line x1="265.1" y1="450.3" x2="265.1" y2="453.6" stroke="#333333" stroke-width="1.3"/>
<text transform="translate(263.44,457.6) rotate(-90)" text-anchor="end" class="ax">Other</text>
<text transform="translate(272.74,457.6) rotate(-90)" text-anchor="end" class="ax">Vegetables</text>
<line x1="287.65" y1="450.3" x2="287.65" y2="453.6" stroke="#333333" stroke-width="1.3"/>
<text transform="translate(290.64,457.6) rotate(-90)" text-anchor="end" class="ax">Apples</text>
<line x1="310.2" y1="450.3" x2="310.2" y2="453.6" stroke="#333333" stroke-width="1.3"/>
<text transform="translate(308.54,457.6) rotate(-90)" text-anchor="end" class="ax">Citrus</text>
<text transform="translate(317.84,457.6) rotate(-90)" text-anchor="end" class="ax">Fruits</text>
<line x1="332.75" y1="450.3" x2="332.75" y2="453.6" stroke="#333333" stroke-width="1.3"/>
<text transform="translate(331.09,457.6) rotate(-90)" text-anchor="end" class="ax">Other Fruits</text>
<text transform="translate(340.39,457.6) rotate(-90)" text-anchor="end" class="ax">and Nuts</text>
<line x1="368.5" y1="450.3" x2="368.5" y2="453.6" stroke="#333333" stroke-width="1.3"/>
<text transform="translate(371.49,457.6) rotate(-90)" text-anchor="end" class="ax">All Products</text>
<line x1="391.98" y1="450.3" x2="391.98" y2="453.6" stroke="#333333" stroke-width="1.3"/>
<text transform="translate(390.32,457.6) rotate(-90)" text-anchor="end" class="ax">Animal</text>
<text transform="translate(399.62,457.6) rotate(-90)" text-anchor="end" class="ax">Products</text>
<line x1="415.46" y1="450.3" x2="415.46" y2="453.6" stroke="#333333" stroke-width="1.3"/>
<text transform="translate(413.8,457.6) rotate(-90)" text-anchor="end" class="ax">Crop</text>
<text transform="translate(423.1,457.6) rotate(-90)" text-anchor="end" class="ax">Products</text>
<line x1="438.94" y1="450.3" x2="438.94" y2="453.6" stroke="#333333" stroke-width="1.3"/>
<text transform="translate(437.28,457.6) rotate(-90)" text-anchor="end" class="ax">Pollination</text>
<text transform="translate(446.58,457.6) rotate(-90)" text-anchor="end" class="ax">Dependent</text>
<line x1="462.42" y1="450.3" x2="462.42" y2="453.6" stroke="#333333" stroke-width="1.3"/>
<text transform="translate(460.76,457.6) rotate(-90)" text-anchor="end" class="ax">Pollination</text>
<text transform="translate(470.06,457.6) rotate(-90)" text-anchor="end" class="ax">Independent</text>
<line x1="485.9" y1="450.3" x2="485.9" y2="453.6" stroke="#333333" stroke-width="1.3"/>
<text transform="translate(488.89,457.6) rotate(-90)" text-anchor="end" class="ax">Cereals</text>
<line x1="509.38" y1="450.3" x2="509.38" y2="453.6" stroke="#333333" stroke-width="1.3"/>
<text transform="translate(512.37,457.6) rotate(-90)" text-anchor="end" class="ax">Sunflower</text>
<line x1="532.86" y1="450.3" x2="532.86" y2="453.6" stroke="#333333" stroke-width="1.3"/>
<text transform="translate(535.85,457.6) rotate(-90)" text-anchor="end" class="ax">Rapeseed</text>
<line x1="556.34" y1="450.3" x2="556.34" y2="453.6" stroke="#333333" stroke-width="1.3"/>
<text transform="translate(559.33,457.6) rotate(-90)" text-anchor="end" class="ax">Tomato</text>
<line x1="579.82" y1="450.3" x2="579.82" y2="453.6" stroke="#333333" stroke-width="1.3"/>
<text transform="translate(578.16,457.6) rotate(-90)" text-anchor="end" class="ax">Other</text>
<text transform="translate(587.46,457.6) rotate(-90)" text-anchor="end" class="ax">Vegetables</text>
<line x1="603.3" y1="450.3" x2="603.3" y2="453.6" stroke="#333333" stroke-width="1.3"/>
<text transform="translate(606.29,457.6) rotate(-90)" text-anchor="end" class="ax">Apples</text>
<line x1="626.78" y1="450.3" x2="626.78" y2="453.6" stroke="#333333" stroke-width="1.3"/>
<text transform="translate(625.12,457.6) rotate(-90)" text-anchor="end" class="ax">Citrus</text>
<text transform="translate(634.42,457.6) rotate(-90)" text-anchor="end" class="ax">Fruits</text>
<line x1="650.26" y1="450.3" x2="650.26" y2="453.6" stroke="#333333" stroke-width="1.3"/>
<text transform="translate(648.6,457.6) rotate(-90)" text-anchor="end" class="ax">Other Fruits</text>
<text transform="translate(657.9,457.6) rotate(-90)" text-anchor="end" class="ax">and Nuts</text>
<text x="350.6" y="517.4" text-anchor="middle" class="ti">Commodities in the CAPRI model</text>
<text transform="translate(6.9,235.4) rotate(-90)" text-anchor="middle" class="ti">Percentage change (%)</text>
<text x="98.9" y="565.9" class="ti">Commodity</text>
<circle cx="160.1" cy="550.7" r="1.85" fill="#fff" stroke="#135c9f" stroke-opacity="0.85" stroke-width="1.35"/>
<text x="173.2" y="553.6" class="lg">All Products</text>
<circle cx="160.1" cy="575" r="1.85" fill="#fff" stroke="#fa8072" stroke-opacity="0.85" stroke-width="1.35"/>
<text x="171" y="573.1" class="lg">Animal</text>
<text x="171.6" y="581.9" class="lg">Products</text>
<circle cx="229.4" cy="550.7" r="1.85" fill="#fff" stroke="#8b4513" stroke-opacity="0.85" stroke-width="1.35"/>
<text x="240" y="549.3" class="lg">Crop</text>
<text x="241.9" y="558.1" class="lg">Products</text>
<circle cx="229.4" cy="575" r="1.85" fill="#fff" stroke="#6495ed" stroke-opacity="0.85" stroke-width="1.35"/>
<text x="242.2" y="573.1" class="lg">Pollination</text>
<text x="242.8" y="581.9" class="lg">Dependent</text>
<circle cx="295.2" cy="550.7" r="1.85" fill="#fff" stroke="#87936f" stroke-opacity="0.85" stroke-width="1.35"/>
<text x="307.4" y="549.3" class="lg">Pollination</text>
<text x="308.4" y="558.1" class="lg">Independent</text>
<circle cx="295.2" cy="575" r="1.85" fill="#fff" stroke="#ffd700" stroke-opacity="0.85" stroke-width="1.35"/>
<text x="306.8" y="577.9" class="lg">Cereals</text>
<circle cx="366.7" cy="550.7" r="1.85" fill="#fff" stroke="#ffb300" stroke-opacity="0.85" stroke-width="1.35"/>
<text x="379.5" y="553.6" class="lg">Sunflower</text>
<circle cx="366.7" cy="575" r="1.85" fill="#fff" stroke="#fddd88" stroke-opacity="0.85" stroke-width="1.35"/>
<text x="379.5" y="577.9" class="lg">Rapeseed</text>
<circle cx="429.7" cy="550.7" r="1.85" fill="#fff" stroke="#ff6347" stroke-opacity="0.85" stroke-width="1.35"/>
<text x="441.3" y="553.6" class="lg">Tomato</text>
<circle cx="429.7" cy="575" r="1.85" fill="#fff" stroke="#551a8b" stroke-opacity="0.85" stroke-width="1.35"/>
<text x="440.1" y="573.1" class="lg">Other</text>
<text x="442" y="581.9" class="lg">Vegetables</text>
<circle cx="495.8" cy="550.7" r="1.85" fill="#fff" stroke="#7dc65a" stroke-opacity="0.85" stroke-width="1.35"/>
<text x="508.2" y="553.6" class="lg">Apples</text>
<circle cx="495.8" cy="575" r="1.85" fill="#fff" stroke="#ffa500" stroke-opacity="0.85" stroke-width="1.35"/>
<text x="508.2" y="573.1" class="lg">Citrus</text>
<text x="508.2" y="581.9" class="lg">Fruits</text>
<circle cx="546.1" cy="550.7" r="1.85" fill="#fff" stroke="#66cdaa" stroke-opacity="0.85" stroke-width="1.35"/>
<text x="558.1" y="549.3" class="lg">Other Fruits</text>
<text x="558.1" y="558.1" class="lg">and Nuts</text>
</svg>
</body></html>
